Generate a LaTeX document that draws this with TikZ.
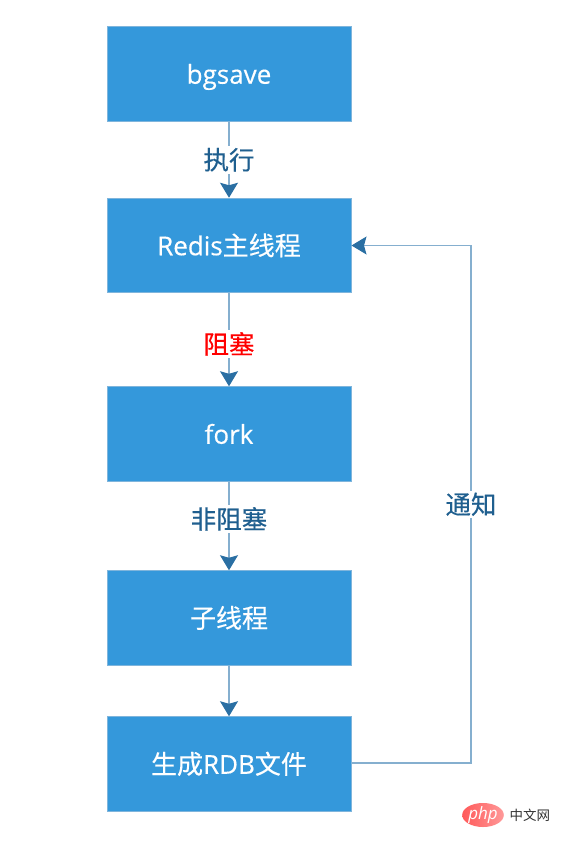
\documentclass[tikz,border=0pt]{standalone}
\usepackage{fontspec}
\setmainfont{Open Sans}[FakeBold=0.35]
\newfontfamily\cjk{Noto Sans CJK SC}[FakeBold=0.35]
\newfontfamily\plaincjk{Noto Sans CJK SC}
\newfontfamily\phpfont{Open Sans}
\usetikzlibrary{arrows.meta,shapes.geometric}
\definecolor{boxfill}{HTML}{3498DB}
\definecolor{boxedge}{HTML}{7FB5DC}
\definecolor{linec}{HTML}{2A6FA3}
\definecolor{lineb}{HTML}{85AFCF}
\definecolor{labc}{HTML}{1F5F8F}
\tikzset{
  flowbox/.style={draw=boxedge,line width=1pt,fill=boxfill,minimum width=244pt,minimum height=94.5pt,inner sep=0pt,text=white,text height=19.5pt,text depth=0pt,font=\fontsize{26}{28}\selectfont},
  flowline/.style={draw=lineb,line width=1.1pt,-{Stealth[length=15pt,width=18pt,inset=2.5pt,color=linec]}},
  flowlab/.style={fill=white,inner sep=2pt,text=labc,font=\fontsize{25.5}{28}\selectfont\cjk}
}
\begin{document}
\begin{tikzpicture}[x=1pt,y=-1pt]
\useasboundingbox (0,0) rectangle (562,848);
\node[flowbox] (a) at (229,74) {bgsave};
\node[flowbox] (b) at (229,245.5) {Redis{\cjk 主线程}};
\node[flowbox] (c) at (229,434) {fork};
\node[flowbox] (d) at (229,618) {\cjk 子线程};
\node[flowbox] (e) at (229,764) {{\cjk 生成}RDB{\cjk 文件}};
\draw[flowline] (a) -- node[flowlab] {执行} (b);
\draw[flowline] (b) -- node[flowlab,text=red,pos=.545] {阻塞} (c);
\draw[flowline] (c) -- node[flowlab,pos=.42] {非阻塞} (d);
\draw[flowline] (d) -- (e);
\coordinate (tr) at (471,245.5);
\coordinate (br) at (471,763);
\draw[flowline] (e.east |- br) -- (br) -- node[flowlab,pos=.5] {通知} (tr) -- (b.east);
\node[ellipse,left color=red!65!white,right color=red!40!white,minimum width=41pt,minimum height=22pt,inner sep=0pt,text=white,font=\fontsize{17}{17}\selectfont\phpfont\itshape] (p) at (483,815) {php};
\node[text=black!80,inner sep=0pt,font=\fontsize{13.5}{14}\selectfont\plaincjk,anchor=west] (w) at (509.5,815) {中文网};
\end{tikzpicture}
\end{document}
